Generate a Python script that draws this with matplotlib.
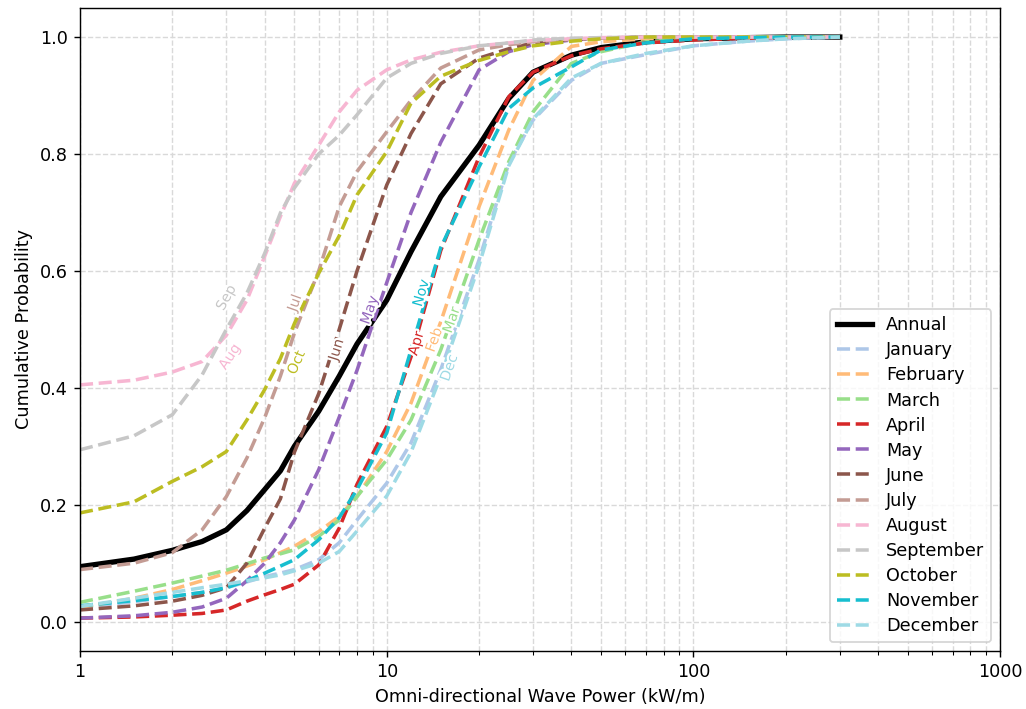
import numpy as np
import matplotlib
matplotlib.use("Agg")
import matplotlib.pyplot as plt
import matplotlib.patheffects as pe
from matplotlib.ticker import FuncFormatter, LogLocator

# wave power grid (kW/m) and CDF values
power = [1, 1.5, 2, 2.5, 3, 3.5, 4, 4.5, 5, 6, 7, 8, 10, 12, 15, 20, 25, 30, 40, 50, 70, 100, 150, 200, 300]

annual = [0.094, 0.107, 0.122, 0.137, 0.157, 0.19, 0.226, 0.258, 0.30, 0.36, 0.42, 0.475, 0.55, 0.633, 0.727, 0.815,
          0.895, 0.94, 0.969, 0.982, 0.992, 0.997, 0.999, 1.0, 1.0]

months = ["January", "February", "March", "April", "May", "June",
          "July", "August", "September", "October", "November", "December"]
short = ["Jan", "Feb", "Mar", "Apr", "May", "Jun", "Jul", "Aug", "Sep", "Oct", "Nov", "Dec"]

jan = [0.024, 0.034, 0.043, 0.05, 0.058, 0.068, 0.077, 0.083, 0.089, 0.106, 0.135, 0.174, 0.237, 0.306, 0.431, 0.619,
       0.784, 0.858, 0.926, 0.955, 0.97, 0.985, 0.993, 0.997, 1.0]
feb = [0.024, 0.04, 0.055, 0.07, 0.083, 0.095, 0.106, 0.118, 0.129, 0.154, 0.18, 0.214, 0.291, 0.374, 0.513, 0.71,
       0.841, 0.926, 0.984, 0.992, 0.997, 0.999, 1.0, 1.0, 1.0]
mar = [0.033, 0.052, 0.066, 0.078, 0.088, 0.099, 0.109, 0.116, 0.123, 0.146, 0.174, 0.214, 0.277, 0.345, 0.465, 0.653,
       0.787, 0.872, 0.955, 0.975, 0.992, 0.997, 0.999, 1.0, 1.0]
apr = [0.006, 0.008, 0.011, 0.014, 0.02, 0.035, 0.046, 0.055, 0.064, 0.097, 0.16, 0.235, 0.334, 0.453, 0.635, 0.795,
       0.898, 0.94, 0.968, 0.98, 0.99, 0.995, 0.998, 1.0, 1.0]
may = [0.006, 0.01, 0.016, 0.025, 0.04, 0.07, 0.10, 0.135, 0.174, 0.26, 0.35, 0.43, 0.58, 0.70, 0.82, 0.944,
       0.975, 0.987, 0.995, 0.998, 1.0, 1.0, 1.0, 1.0, 1.0]
jun = [0.02, 0.027, 0.035, 0.045, 0.058, 0.10, 0.16, 0.21, 0.29, 0.39, 0.50, 0.60, 0.747, 0.835, 0.92, 0.964,
       0.98, 0.99, 0.996, 0.998, 1.0, 1.0, 1.0, 1.0, 1.0]
jul = [0.089, 0.10, 0.118, 0.157, 0.214, 0.28, 0.349, 0.42, 0.494, 0.60, 0.71, 0.77, 0.838, 0.892, 0.947, 0.978,
       0.987, 0.992, 0.996, 0.998, 1.0, 1.0, 1.0, 1.0, 1.0]
aug = [0.405, 0.413, 0.427, 0.445, 0.49, 0.55, 0.625, 0.693, 0.75, 0.815, 0.872, 0.909, 0.944, 0.961, 0.974, 0.985,
       0.99, 0.994, 0.997, 0.999, 1.0, 1.0, 1.0, 1.0, 1.0]
sep = [0.294, 0.318, 0.354, 0.422, 0.50, 0.562, 0.63, 0.699, 0.742, 0.80, 0.832, 0.867, 0.93, 0.955, 0.972, 0.985,
       0.99, 0.995, 0.998, 0.999, 1.0, 1.0, 1.0, 1.0, 1.0]
oct_ = [0.186, 0.205, 0.24, 0.265, 0.291, 0.345, 0.397, 0.45, 0.51, 0.596, 0.66, 0.73, 0.804, 0.887, 0.933, 0.96,
        0.975, 0.985, 0.993, 0.997, 1.0, 1.0, 1.0, 1.0, 1.0]
nov = [0.027, 0.036, 0.043, 0.05, 0.058, 0.07, 0.083, 0.095, 0.106, 0.14, 0.178, 0.226, 0.323, 0.465, 0.64, 0.778,
       0.878, 0.913, 0.949, 0.978, 0.99, 0.997, 0.999, 1.0, 1.0]
dec = [0.026, 0.04, 0.05, 0.058, 0.064, 0.07, 0.075, 0.08, 0.087, 0.10, 0.12, 0.155, 0.215, 0.29, 0.42, 0.61,
       0.78, 0.86, 0.93, 0.955, 0.972, 0.985, 0.993, 0.997, 1.0]

monthly = [jan, feb, mar, apr, may, jun, jul, aug, sep, oct_, nov, dec]

# inline label positions (x, y) in data units, in month order
label_x = [None, 14.3, 16.3, 12.5, 8.8, 6.86, 5.02, 3.08, 3.0, 5.08, 12.97, 16.0]
label_y = [None, 0.482, 0.516, 0.476, 0.533, 0.465, 0.545, 0.453, 0.554, 0.443, 0.562, 0.434]

cmap = plt.get_cmap("tab20")
colours = [cmap(i) for i in [1, 3, 5, 6, 8, 10, 11, 13, 15, 16, 18, 19]]

fig = plt.figure(figsize=(8.08, 5.583), dpi=127)
ax = fig.add_axes([0.078, 0.082, 0.8967, 0.9069])

ax.plot(power, annual, color="black", lw=3, label="Annual")
for name, vals, c in zip(months, monthly, colours):
    ax.plot(power, vals, "--", color=c, lw=2, label=name)

ax.set_xscale("log")
ax.set_xlim(1, 1000)
ax.set_ylim(-0.05, 1.05)
ax.xaxis.set_major_formatter(FuncFormatter(lambda v, p: "%d" % v))
ax.xaxis.set_minor_locator(LogLocator(base=10, subs=np.arange(2, 10)))
ax.grid(True, which="major", linestyle="--", color="#d9d9d9", lw=0.8)
ax.grid(True, which="minor", axis="x", linestyle="--", color="#d9d9d9", lw=0.8)
ax.set_xlabel("Omni-directional Wave Power (kW/m)")
ax.set_ylabel("Cumulative Probability")

# rotated labels along the curves
logp = np.log10(power)
for i, (vals, c) in enumerate(zip(monthly, colours)):
    if label_x[i] is None:
        continue
    x0 = label_x[i]
    xa, xb = x0 / 1.08, x0 * 1.08
    ya = np.interp(np.log10(xa), logp, vals)
    yb = np.interp(np.log10(xb), logp, vals)
    pa = ax.transData.transform((xa, ya))
    pb = ax.transData.transform((xb, yb))
    ang = np.degrees(np.arctan2(pb[1] - pa[1], pb[0] - pa[0]))
    ax.text(x0, label_y[i], short[i], color=c, fontsize=8, rotation=ang,
            rotation_mode="anchor", ha="center", va="center",
            path_effects=[pe.withStroke(linewidth=2.5, foreground="white")])

ax.legend(loc="lower right", fontsize=10, labelspacing=0.4)

fig.savefig("out.png", dpi=127)
